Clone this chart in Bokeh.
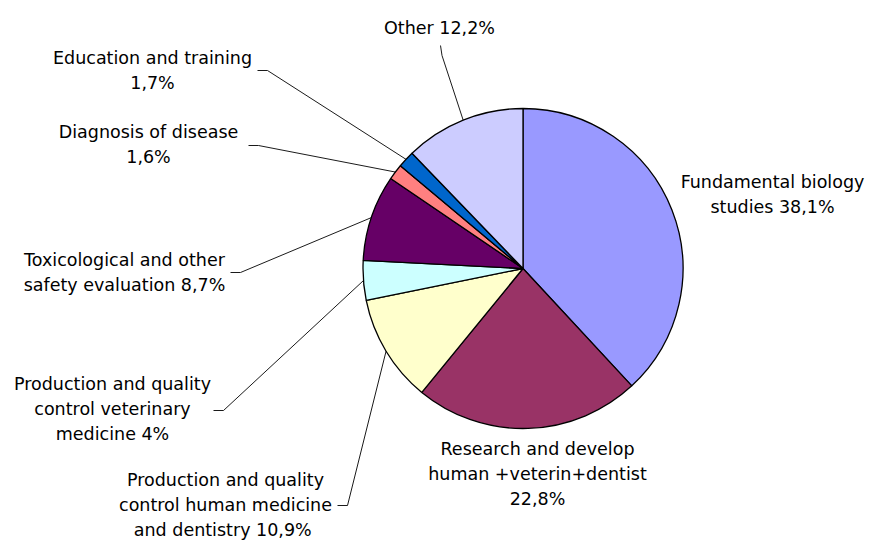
import math
from bokeh.plotting import figure
from bokeh.models import Range1d
from bokeh.core.properties import value
from bokeh.embed import file_html
from bokeh.resources import INLINE

# ---- data ----
categories = [
    "Fundamental biology studies",
    "Research and develop human +veterin+dentist",
    "Production and quality control human medicine and dentistry",
    "Production and quality control veterinary medicine",
    "Toxicological and other safety evaluation",
    "Diagnosis of disease",
    "Education and training",
    "Other",
]
shares = [38.1, 22.8, 10.9, 4.0, 8.7, 1.6, 1.7, 12.2]
labels = [
    "Fundamental biology\nstudies 38,1%",
    "Research and develop\nhuman +veterin+dentist\n22,8%",
    "Production and quality\ncontrol human medicine\nand dentistry  10,9%",
    "Production and quality\ncontrol veterinary\nmedicine 4%",
    "Toxicological and other\nsafety evaluation 8,7%",
    "Diagnosis of disease\n1,6%",
    "Education and training\n1,7%",
    "Other 12,2%",
]
colors = ["#9999FF", "#993366", "#FFFFCC", "#CCFFFF", "#660066", "#FF8080", "#0066CC", "#CCCCFF"]

# ---- layout (screen pixel positions of the reference image) ----
CX, CY, R = 522.5, 268.0, 160.0
label_pos = [(772, 194), (537, 473), (225, 504), (112, 408), (124, 272), (148, 144), (152, 70), (439, 27)]
leader_start = [None, None,
                [(337, 505), (347, 505)],
                [(213, 410), (223, 410)],
                [(230, 272), (240, 272)],
                [(248, 145), (258, 145)],
                [(257, 70), (267, 70)],
                [(440, 45), (441.5, 55)]]

def dx(sx):
    return sx - CX

def dy(sy):
    return CY - sy

OX, OY = 0, 0
W, H = 871, 542
p = figure(width=W, height=H, output_backend="svg", toolbar_location=None,
           x_range=Range1d(dx(OX), dx(OX + W)), y_range=Range1d(dy(OY + H), dy(OY)),
           min_border=0, outline_line_color=None)
p.axis.visible = False
p.grid.visible = False
p.background_fill_color = "white"
p.border_fill_color = "white"

total = sum(shares)
starts, ends, mids = [], [], []
cum = 0.0
for s in shares:
    a0 = math.pi / 2 - 2 * math.pi * cum / total
    cum += s
    a1 = math.pi / 2 - 2 * math.pi * cum / total
    starts.append(a1)
    ends.append(a0)
    mids.append((a0 + a1) / 2)

p.wedge(x=[0] * len(shares), y=[0] * len(shares), radius=R,
        start_angle=starts, end_angle=ends, direction="anticlock",
        fill_color=colors, line_color="black", line_width=1.3)

# leader lines
xs, ys = [], []
for i, st in enumerate(leader_start):
    if st is None:
        continue
    ax = R * math.cos(mids[i])
    ay = R * math.sin(mids[i])
    xs.append([dx(st[0][0]), dx(st[1][0]), ax])
    ys.append([dy(st[0][1]), dy(st[1][1]), ay])
p.multi_line(xs=xs, ys=ys, line_color="black", line_width=0.9)

# labels
p.text(x=[dx(lp[0]) for lp in label_pos], y=[dy(lp[1]) for lp in label_pos], text=labels,
       text_align="center", text_baseline="middle", text_font=value("DejaVu Sans"),
       text_font_size="17.5px", text_line_height=1.25, text_color="black")

open("out.html", "w").write(file_html(p, INLINE))
